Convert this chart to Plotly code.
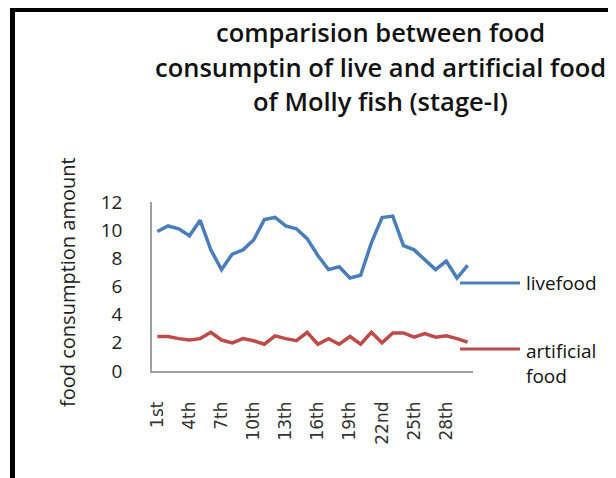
import plotly.graph_objects as go

days = ["1st", "2nd", "3rd"] + [f"{i}th" for i in range(4, 21)] + ["21st", "22nd", "23rd"] + [f"{i}th" for i in range(24, 31)]
tick_labels = ["1st", "4th", "7th", "10th", "13th", "16th", "19th", "22nd", "25th", "28th"]
livefood = [9.9, 10.3, 10.1, 9.6, 10.7, 8.6, 7.2, 8.3, 8.6, 9.3,
            10.75, 10.9, 10.3, 10.1, 9.4, 8.2, 7.2, 7.4, 6.6, 6.8,
            9.1, 10.9, 11.0, 8.9, 8.6, 7.9, 7.2, 7.8, 6.6, 7.5]
artificial = [2.45, 2.45, 2.3, 2.2, 2.3, 2.75, 2.2, 2.0, 2.3, 2.15,
              1.9, 2.5, 2.3, 2.15, 2.75, 1.9, 2.3, 1.9, 2.45, 1.9,
              2.75, 2.0, 2.7, 2.7, 2.4, 2.65, 2.4, 2.5, 2.3, 2.05]
series_names = ["livefood", "artificial<br>food"]
title_lines = ["comparision between food",
               "consumptin of live and artificial food",
               "of Molly fish (stage-I)"]
y_title = "food consumption amount"

BLUE = "#4A7EBB"
RED = "#BE4B48"
colors = [BLUE, RED]

OFF = 8  # page body margin
W, H = 616 - OFF, 478 - OFF
# plot area in page pixel coordinates
L, R, T, B = 152, 473, 202, 371
pw, ph = R - L, B - T

def px(x):
    return (x - L) / pw

def py(y):
    return (B - y) / ph

fig = go.Figure()
for vals, c in zip([livefood, artificial], colors):
    fig.add_trace(go.Scatter(x=days, y=vals, mode="lines",
                             line=dict(color=c, width=3.5), showlegend=False))

fig.update_layout(
    width=W, height=H, autosize=False,
    margin=dict(l=L - OFF, r=616 - R, t=T - OFF, b=478 - B, pad=0),
    paper_bgcolor="white", plot_bgcolor="white",
    font=dict(family="Open Sans", color="#222"),
    xaxis=dict(type="category", categoryorder="array", categoryarray=days,
               tickmode="array", tickvals=tick_labels, ticktext=tick_labels,
               tickangle=-90, showgrid=False, showline=True, linecolor="#a0a0a0",
               linewidth=1.5, ticks="", ticklabelstandoff=22,
               tickfont=dict(family="DejaVu Sans", size=17, color="#333"),
               range=[-0.5, 29.5], fixedrange=True),
    yaxis=dict(range=[0, 12], tickvals=[0, 2, 4, 6, 8, 10, 12], showgrid=False,
               showline=True, linecolor="#a0a0a0", linewidth=1.5, ticks="",
               ticklabelstandoff=24, zeroline=False,
               tickfont=dict(family="Open Sans", size=19, color="#222")),
)

# Title lines
for line, yy in zip(title_lines, [32, 67, 101]):
    fig.add_annotation(text=line, xref="paper", yref="paper",
                       x=px(380), y=py(yy), xanchor="center", yanchor="middle",
                       showarrow=False,
                       font=dict(family="Open Sans", size=25.5, weight=600, color="#111"))

# Y axis title
fig.add_annotation(text=y_title, xref="paper", yref="paper", x=px(67), y=py(282),
                   xanchor="center", yanchor="middle", textangle=-90, showarrow=False,
                   font=dict(family="Open Sans", size=20, color="#222"))

# Legend (manual)
for name, c, yy, ty in zip(series_names, colors, [283, 349], [283, 363]):
    fig.add_shape(type="line", xref="paper", yref="paper", x0=px(460), x1=px(520),
                  y0=py(yy), y1=py(yy), line=dict(color=c, width=3))
    fig.add_annotation(text=name, xref="paper", yref="paper", x=px(524), y=py(ty),
                       xanchor="left", yanchor="middle", align="left", showarrow=False,
                       font=dict(family="Open Sans", size=19, color="#111"))

# Border lines
fig.add_shape(type="line", xref="paper", yref="paper", x0=px(12.5), x1=px(12.5),
              y0=py(8), y1=py(490), line=dict(color="black", width=5))
fig.add_shape(type="line", xref="paper", yref="paper", x0=px(10), x1=px(630),
              y0=py(10), y1=py(10), line=dict(color="black", width=4))

fig.write_html("out.html")
